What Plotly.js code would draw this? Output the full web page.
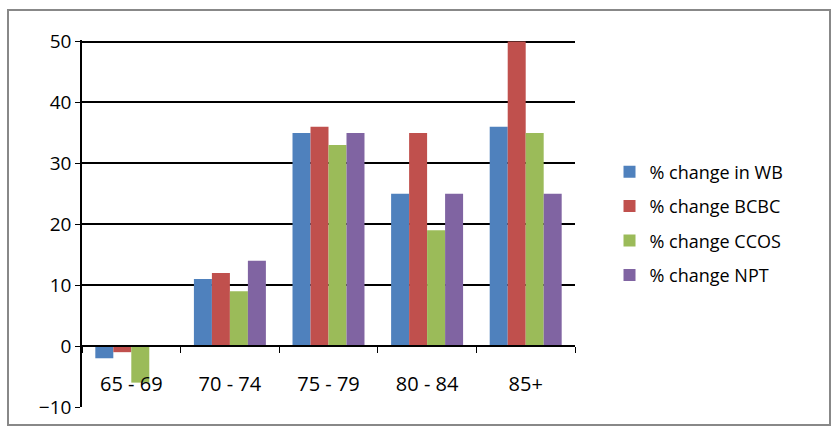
<!DOCTYPE html>
<html>
<head>
<script src="https://cdn.plot.ly/plotly-3.0.1.min.js"></script>
<style>body{margin:0;background:#fff}</style>
</head>
<body>
<div id="chart" style="width:837px;height:431px"></div>
<script>
const ageGroups = ['65 - 69', '70 - 74', '75 - 79', '80 - 84', '85+'];
const seriesNames = ['% change in WB', '% change BCBC', '% change CCOS', '% change NPT'];
const changeWB   = [-2, 11, 35, 25, 36];
const changeBCBC = [-1, 12, 36, 35, 50];
const changeCCOS = [-6, 9, 33, 19, 35];
const changeNPT  = [0, 14, 35, 25, 25];
const colors = ['#4f81bd', '#c0504d', '#9bbb59', '#8064a2'];

const values = [changeWB, changeBCBC, changeCCOS, changeNPT];
const traces = values.map((v, i) => ({
  type: 'bar',
  x: ageGroups,
  y: v,
  name: seriesNames[i],
  legendgroup: 'g' + i,
  marker: {color: colors[i]}
}));

const font = {family: 'Open Sans, Liberation Sans, sans-serif', size: 19, color: '#000'};

const layout = {
  width: 837,
  height: 431,
  margin: {l: 82, r: 262, t: 40, b: 24},
  barmode: 'group',
  bargap: 0.27,
  bargroupgap: 0,
  font: font,
  showlegend: true,
  legend: {x: 1.07, y: 0.5, yanchor: 'middle', traceorder: 'grouped', tracegroupgap: 8,
           font: {family: font.family, size: 18}, itemwidth: 30},
  xaxis: {
    anchor: 'free',
    position: 1 / 6,
    showline: true,
    linecolor: '#000',
    linewidth: 1.5,
    ticks: 'outside',
    tickson: 'boundaries',
    ticklen: 6,
    tickcolor: '#000',
    tickfont: {size: 20},
    ticklabelstandoff: 20,
    showgrid: false,
    zeroline: false
  },
  yaxis: {
    range: [-10, 50.25],
    dtick: 10,
    showline: true,
    linecolor: '#000',
    linewidth: 1.5,
    gridcolor: '#000',
    gridwidth: 1.5,
    zeroline: false,
    ticks: 'outside',
    ticklen: 5,
    tickcolor: '#000'
  },
  shapes: [{
    type: 'rect', xref: 'paper', yref: 'paper',
    x0: (8 - 82) / 493, x1: (830 - 82) / 493,
    y0: (407 - 425) / 367, y1: (407 - 10) / 367,
    line: {color: '#888', width: 2}
  }]
};

Plotly.newPlot('chart', traces, layout, {displayModeBar: false});
</script>
</body>
</html>
